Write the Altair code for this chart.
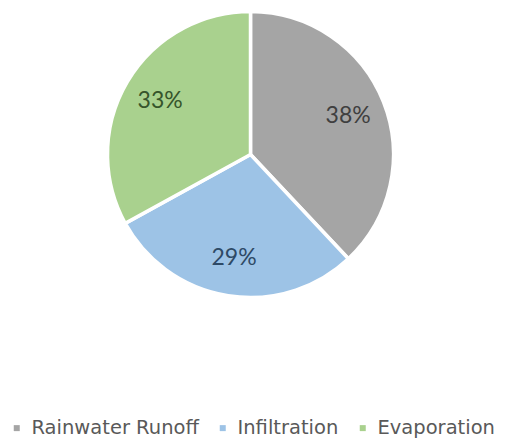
import altair as alt
import pandas as pd

categories = ["Rainwater Runoff", "Infiltration", "Evaporation"]
values = [38, 29, 33]
slice_colors = ["#A5A5A5", "#9DC3E6", "#A9D18E"]
label_colors = ["#3F3F3F", "#2E4A66", "#36552B"]

df = pd.DataFrame({
    "category": categories,
    "value": values,
    "order": list(range(len(categories))),
})
df["label"] = df["value"].astype(str) + "%"

CX, CY = 250.5, 154.5

base = alt.Chart(df).encode(
    theta=alt.Theta("value:Q", stack=True),
    order=alt.Order("order:Q"),
    x=alt.value(CX),
    y=alt.value(CY),
)

pie = base.mark_arc(outerRadius=143, stroke="white", strokeWidth=3.5).encode(
    color=alt.Color(
        "category:N",
        scale=alt.Scale(domain=categories, range=slice_colors),
        legend=alt.Legend(
            title=None,
            orient="none",
            direction="horizontal",
            legendX=7,
            legendY=418,
            symbolType="square",
            symbolSize=36,
            symbolStrokeWidth=0,
            labelFont="DejaVu Sans",
            labelFontSize=19.5,
            labelColor="#595959",
            labelOffset=5,
            labelLimit=300,
            columnPadding=14,
        ),
    )
)

labels = base.mark_text(radius=105, font="Lato", fontSize=23).encode(
    text="label:N",
    color=alt.Color(
        "category:N",
        scale=alt.Scale(domain=categories, range=label_colors),
        legend=None,
    ),
)

chart = (
    alt.layer(pie, labels)
    .resolve_scale(color="independent")
    .properties(width=506, height=438, autosize="none", padding=0)
    .configure_view(stroke=None)
)

chart.save("out.html", embed_options={"renderer": "svg", "actions": False})
